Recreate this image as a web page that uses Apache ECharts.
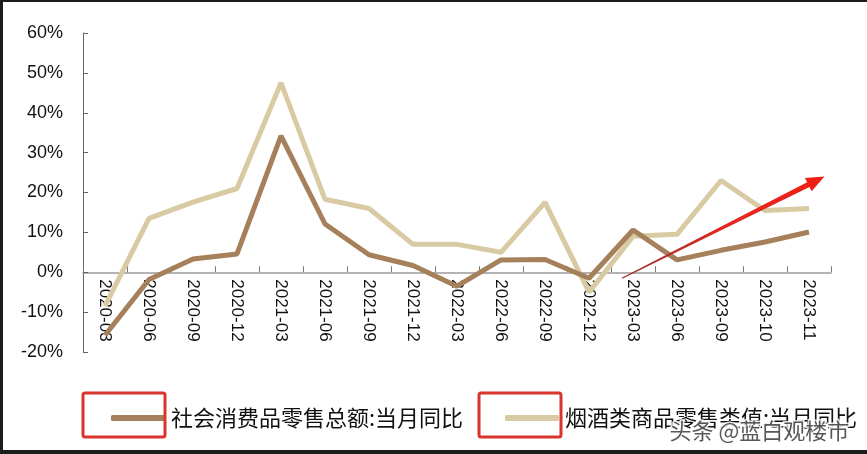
<!DOCTYPE html>
<html>
<head>
<meta charset="utf-8">
<script src="https://cdn.jsdelivr.net/npm/echarts@6/dist/echarts.min.js"></script>
<style>
html,body{margin:0;padding:0;background:#1a1a1a;}
#c{width:867px;height:454px;}
</style>
</head>
<body>
<div id="c"></div>
<script>
const categories = ['2020-03','2020-06','2020-09','2020-12','2021-03','2021-06','2021-09','2021-12','2022-03','2022-06','2022-09','2022-12','2023-03','2023-06','2023-09','2023-10','2023-11'];
const retailTotal = [-15.8, -1.8, 3.3, 4.6, 34.2, 12.1, 4.4, 1.7, -3.5, 3.1, 3.2, -1.5, 10.6, 3.1, 5.5, 7.6, 10.1];
const tobaccoAlcohol = [-8.5, 13.5, 17.6, 21.0, 47.5, 18.3, 16.0, 7.0, 7.0, 5.0, 17.5, -5.0, 9.0, 9.5, 23.0, 15.5, 16.0];
const yTicks = [-20, -10, 0, 10, 20, 30, 40, 50, 60];
const seriesNames = ['社会消费品零售总额:当月同比', '烟酒类商品零售类值:当月同比'];
const watermark = '头条 @蓝白观楼市';
// trend-arrow annotation in data space: [category index, value]
const arrowFrom = [11.75, -1.5];
const arrowTo = [16.35, 24];

const chart = echarts.init(document.getElementById('c'), null, {renderer: 'canvas'});
const cnFont = '"Noto Sans CJK SC", sans-serif';
const gridTop = 33, gridBottom = 102, H = 454;
const yMin = yTicks[0], yMax = yTicks[yTicks.length-1];
// x axis sits at the zero line: offset (negative moves it up into the grid)
const plotH = H - gridTop - gridBottom;
const zeroOffset = -plotH * (0 - yMin) / (yMax - yMin);
const option = {
  animation: false,
  backgroundColor: '#ffffff',
  grid: {left: 83, right: 36, top: gridTop, bottom: gridBottom},
  legend: [
    {data: [seriesNames[0]], left: 106, top: 402, itemWidth: 54, itemHeight: 6, icon: 'roundRect', itemGap: 0,
     textStyle: {fontFamily: cnFont, fontSize: 22, color: '#111', padding: [0,0,0,1]}},
    {data: [seriesNames[1]], left: 500, top: 402, itemWidth: 54, itemHeight: 6, icon: 'roundRect', itemGap: 0,
     textStyle: {fontFamily: cnFont, fontSize: 22, color: '#111', padding: [0,0,0,1]}}
  ],
  xAxis: {
    type: 'category', data: categories, boundaryGap: true, position: 'bottom', offset: zeroOffset,
    axisLine: {onZero: false, lineStyle: {color: '#9a9a9a', width: 1.5}},
    axisTick: {show: true, inside: true, length: 6, lineStyle: {color: '#777'}},
    axisLabel: {rotate: -90, margin: 7, fontFamily: 'Liberation Sans, Arial, sans-serif', fontSize: 17, color: '#111'},
    splitLine: {show: false}
  },
  yAxis: {
    type: 'value', min: yMin, max: yMax, interval: 10,
    axisLine: {show: true, lineStyle: {color: '#666', width: 1}},
    axisTick: {show: true, inside: true, length: 5, lineStyle: {color: '#666'}},
    axisLabel: {margin: 20, formatter: '{value}%', fontFamily: 'Liberation Sans, Arial, sans-serif', fontSize: 18, color: '#111'},
    splitLine: {show: false}
  },
  series: [
    {name: seriesNames[0], type: 'line', data: retailTotal, symbol: 'none', z: 3,
     lineStyle: {color: '#A5805A', width: 5}, itemStyle: {color: '#A5805A'}},
    {name: seriesNames[1], type: 'line', data: tobaccoAlcohol, symbol: 'none', z: 2,
     lineStyle: {color: '#D8CAA2', width: 5}, itemStyle: {color: '#D8CAA2'}}
  ]
};
chart.setOption(option);

function toPx(pt){
  const i0 = Math.floor(pt[0]);
  const a = chart.convertToPixel({xAxisIndex: 0}, i0);
  const b = chart.convertToPixel({xAxisIndex: 0}, i0 + 1 < categories.length ? i0 + 1 : i0 - 1);
  const step = (i0 + 1 < categories.length) ? (b - a) : (a - b);
  const x = a + (pt[0] - i0) * step;
  const y = chart.convertToPixel({yAxisIndex: 0}, pt[1]);
  return [x, y];
}
const s = toPx(arrowFrom), e = toPx(arrowTo);
const dx = e[0]-s[0], dy = e[1]-s[1], L = Math.sqrt(dx*dx+dy*dy);
const ux = dx/L, uy = dy/L, nx = -uy, ny = ux;
const headLen = 18, headHalf = 7.5;
const bx = e[0]-ux*headLen, by = e[1]-uy*headLen;
const P = (p, n, w) => [p[0]+nx*w*n, p[1]+ny*w*n];
const pts = [
  P(s, 1, 0.5), P([bx,by], 1, 2.6), P([bx,by], 1, headHalf), e,
  P([bx,by], -1, headHalf), P([bx,by], -1, 2.6), P(s, -1, 0.5)
];
const legendBox = (x) => ({type: 'rect', shape: {x: x, y: 393, width: 82, height: 44, r: 2},
  style: {fill: 'none', stroke: '#D9352C', lineWidth: 3}, z: 10});
chart.setOption({
  graphic: [
    {type: 'rect', shape: {x: 0, y: 0, width: 867, height: 2}, style: {fill: '#1c1c1c'}, z: 20},
    {type: 'rect', shape: {x: 0, y: 0, width: 3, height: 454}, style: {fill: '#1c1c1c'}, z: 20},
    {type: 'rect', shape: {x: 0, y: 450, width: 867, height: 4}, style: {fill: '#1c1c1c'}, z: 20},
    {type: 'polygon', shape: {points: pts}, z: 15,
     style: {fill: new echarts.graphic.LinearGradient(0, 1, 1, 0, [
       {offset: 0, color: '#9a2a2a'}, {offset: 0.5, color: '#e02a22'}, {offset: 1, color: '#f01c14'}])}},
    legendBox(83), legendBox(479),
    {type: 'text', left: 668, top: 418, z: 12,
     style: {text: watermark, fontFamily: cnFont, fontSize: 22, fill: '#3a3a3a', stroke: '#ffffff', lineWidth: 3, opacity: 0.85}}
  ]
});
</script>
</body>
</html>
